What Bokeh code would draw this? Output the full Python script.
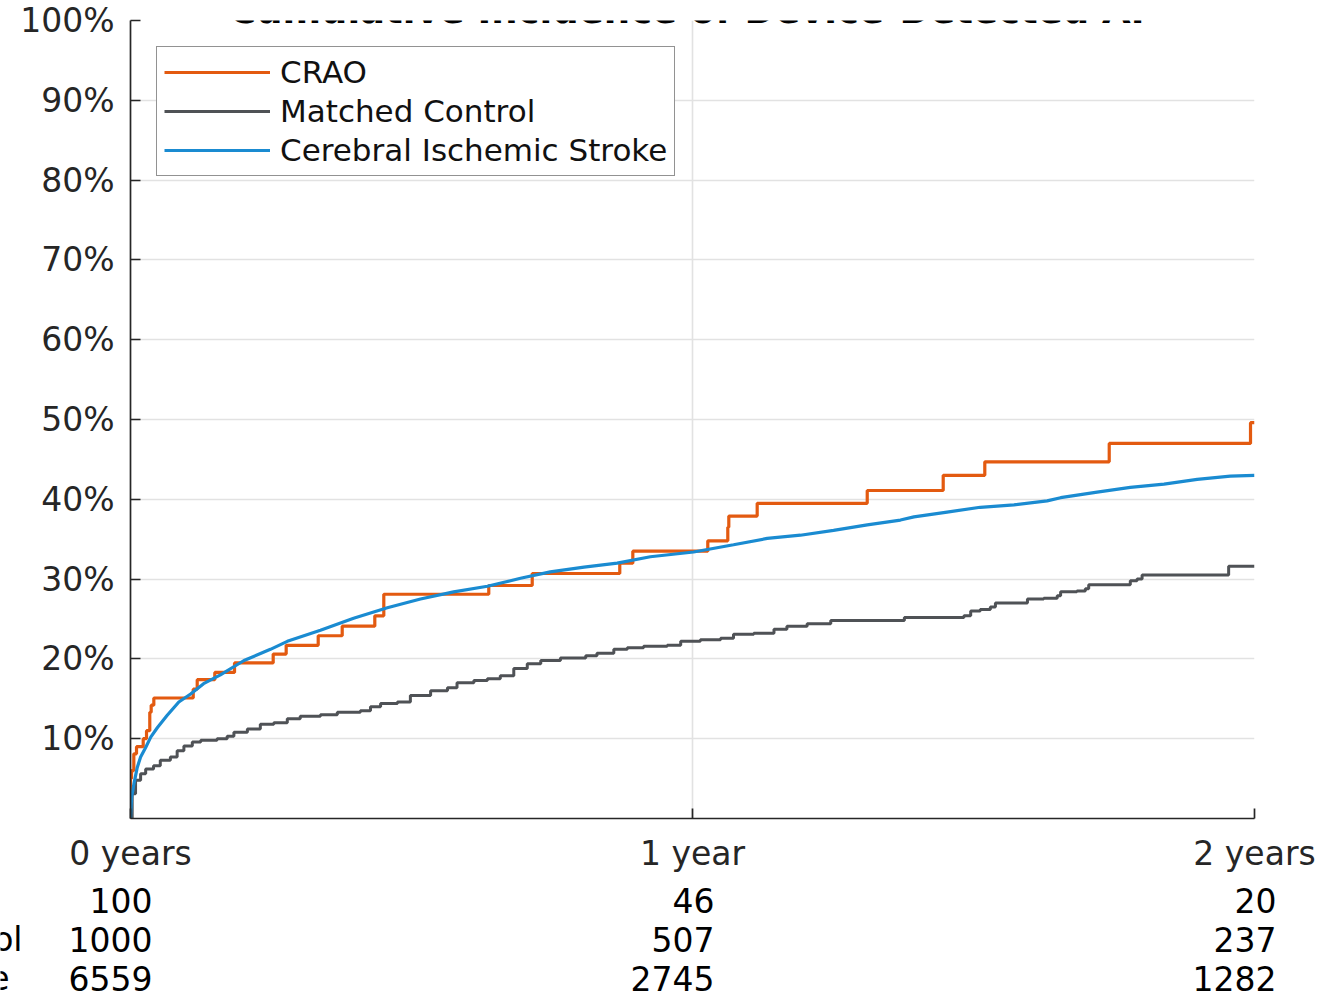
from bokeh.plotting import figure
from bokeh.models import Range1d, FixedTicker, Label, Legend, LegendItem
from bokeh.layouts import column
from bokeh.core.properties import value
from bokeh.embed import file_html
from bokeh.resources import INLINE

# ---------------- data (years, cumulative incidence %) ----------------
crao_t = [0.0, 0.0, 0.0018, 0.0059, 0.0107, 0.0226, 0.0285, 0.0343, 0.0368, 0.0415,
          0.1116, 0.1187, 0.1500, 0.1851, 0.2539, 0.2770, 0.3340, 0.3767, 0.4347,
          0.4507, 0.6375, 0.7148, 0.8706, 0.8938, 1.0272, 1.0628, 1.0646, 1.1151,
          1.3109, 1.4461, 1.5201, 1.7415, 1.9929, 2.0]
crao_pct = [0.0, 5.0, 6.0, 8.1, 9.0, 10.0, 11.0, 13.3, 14.2, 15.1,
            16.2, 17.4, 18.3, 19.5, 20.6, 21.7, 22.9, 24.1, 25.4,
            28.1, 29.2, 30.7, 32.0, 33.5, 34.8, 36.5, 37.9, 39.5,
            41.1, 43.0, 44.7, 47.0, 49.6, 49.6]

ctrl_t = [0.000, 0.003, 0.009, 0.018, 0.027, 0.041, 0.053, 0.071, 0.083, 0.095,
          0.110, 0.125, 0.154, 0.172, 0.184, 0.208, 0.231, 0.255, 0.279, 0.302,
          0.338, 0.368, 0.409, 0.427, 0.445, 0.475, 0.498, 0.534, 0.564, 0.581,
          0.611, 0.635, 0.658, 0.682, 0.706, 0.730, 0.765, 0.810, 0.830, 0.860,
          0.884, 0.913, 0.955, 0.979, 1.014, 1.050, 1.073, 1.109, 1.145, 1.168,
          1.204, 1.246, 1.377, 1.483, 1.495, 1.512, 1.530, 1.539, 1.596, 1.625,
          1.649, 1.655, 1.684, 1.699, 1.705, 1.779, 1.791, 1.800, 1.954, 2.000]
ctrl_pct = [0.0, 3.1, 4.8, 5.6, 6.2, 6.6, 7.3, 7.7, 8.5, 9.1,
            9.6, 9.8, 10.0, 10.3, 10.8, 11.2, 11.8, 12.0, 12.5, 12.8,
            13.0, 13.3, 13.5, 14.0, 14.4, 14.6, 15.4, 16.0, 16.4, 17.0,
            17.3, 17.5, 17.9, 18.8, 19.4, 19.8, 20.1, 20.4, 20.7, 21.2,
            21.4, 21.6, 21.7, 22.2, 22.4, 22.6, 23.1, 23.2, 23.7, 24.1,
            24.4, 24.8, 25.2, 25.4, 26.0, 26.2, 26.5, 27.0, 27.5, 27.6,
            27.9, 28.4, 28.5, 28.8, 29.3, 29.8, 30.0, 30.5, 31.6, 31.6]

stroke_t = [0.000, 0.002, 0.006, 0.012, 0.018, 0.027, 0.036, 0.048, 0.065, 0.086,
            0.107, 0.130, 0.160, 0.202, 0.249, 0.279, 0.338, 0.397, 0.457, 0.516,
            0.575, 0.635, 0.694, 0.747, 0.807, 0.866, 0.925, 1.002, 1.073, 1.133,
            1.192, 1.251, 1.311, 1.370, 1.394, 1.453, 1.512, 1.572, 1.631, 1.655,
            1.720, 1.779, 1.839, 1.898, 1.957, 2.000]
stroke_pct = [0.0, 2.7, 4.3, 6.4, 7.7, 8.9, 10.2, 11.4, 12.9, 14.6,
              15.6, 16.9, 18.0, 19.8, 21.2, 22.2, 23.6, 25.1, 26.4, 27.5,
              28.4, 29.1, 30.1, 30.9, 31.5, 32.0, 32.8, 33.4, 34.3, 35.1,
              35.5, 36.1, 36.8, 37.4, 37.8, 38.4, 39.0, 39.3, 39.8, 40.2,
              40.9, 41.5, 41.9, 42.5, 42.9, 43.0]

series_names = ["CRAO", "Matched Control", "Cerebral Ischemic Stroke"]
risk_times = [0, 1, 2]
risk_crao = [100, 46, 20]
risk_ctrl = [1000, 507, 237]
risk_stroke = [6559, 2745, 1282]

x_ticks = [0, 1, 2]
x_tick_labels = ["0 years", "1 year", "2 years"]
y_ticks = [10, 20, 30, 40, 50, 60, 70, 80, 90, 100]
y_tick_labels = [f"{v}%" for v in y_ticks]

title_text = "Cumulative Incidence of Device-Detected AF"

# ---------------- styling / layout ----------------
ORANGE = "#E35A10"
GRAY = "#4F5256"
BLUE = "#1A8BD1"
AXIS = "#262626"
GRID = "#e2e2e2"
FONT = "DejaVu Sans"

W = 1335
FL, FT, FR = 130, 20, 81      # frame borders of the main chart
FRAME_W = W - FL - FR         # 1124 px for 2 years
FRAME_H = 798
FB = 62
H1 = FT + FRAME_H + FB        # main chart height (880)
H2 = 118                      # risk table height
PX_PER_UNIT = FRAME_H / 100.0
PX_PER_YEAR = FRAME_W / 2.0

p = figure(width=W, height=H1, output_backend="svg", toolbar_location=None,
           x_range=Range1d(0, 2), y_range=Range1d(0, 100),
           min_border_left=FL, min_border_top=FT, min_border_right=FR,
           min_border_bottom=FB)
p.frame_align = False
p.outline_line_color = None
p.background_fill_color = "white"
p.border_fill_color = "white"

# axes
p.xaxis.ticker = FixedTicker(ticks=x_ticks)
p.xaxis.major_label_overrides = {t: l for t, l in zip(x_ticks, x_tick_labels)}
p.yaxis.ticker = FixedTicker(ticks=y_ticks)
p.yaxis.major_label_overrides = {t: l for t, l in zip(y_ticks, y_tick_labels)}
for ax in (p.xaxis, p.yaxis):
    ax.axis_line_color = AXIS
    ax.axis_line_width = 1.7
    ax.major_tick_line_color = AXIS
    ax.major_tick_line_width = 1.7
    ax.major_tick_in = 10
    ax.major_tick_out = 0
    ax.minor_tick_line_color = None
    ax.major_label_text_font = FONT
    ax.major_label_text_font_size = "33px"
    ax.major_label_text_color = AXIS
p.xaxis.major_label_standoff = 15
p.yaxis.major_label_standoff = 16

p.xgrid.grid_line_color = GRID
p.ygrid.grid_line_color = GRID
p.xgrid.grid_line_width = 1.6
p.ygrid.grid_line_width = 1.6

# curves
r_crao = p.step(crao_t, crao_pct, mode="after", line_color=ORANGE, line_width=3.2)
r_ctrl = p.step(ctrl_t, ctrl_pct, mode="after", line_color=GRAY, line_width=3.0)
r_stroke = p.line(stroke_t, stroke_pct, line_color=BLUE, line_width=3.2)

legend = Legend(items=[LegendItem(label=series_names[0], renderers=[r_crao]),
                       LegendItem(label=series_names[1], renderers=[r_ctrl]),
                       LegendItem(label=series_names[2], renderers=[r_stroke])],
                location="top_left", margin=26, padding=7, spacing=3,
                glyph_width=106, glyph_height=36, label_height=36,
                label_standoff=10, label_text_font=FONT,
                label_text_font_size="31px", label_text_color="#111111",
                border_line_color=AXIS, border_line_width=1.3,
                background_fill_color="white", background_fill_alpha=1.0)
p.add_layout(legend, "center")

# title (mostly above the visible page, as in the reference)
p.add_layout(Label(x=1.0, y=100 + 10.0 / PX_PER_UNIT, text=title_text,
                   text_align="center", text_baseline="alphabetic",
                   text_font=FONT, text_font_style="bold",
                   text_font_size="37px", text_color="black"))

# ---------------- number-at-risk table (own figure, same x scale) ----------------
t = figure(width=W, height=H2, output_backend="svg", toolbar_location=None,
           x_range=Range1d(-FL / PX_PER_YEAR, 2 + FR / PX_PER_YEAR),
           y_range=Range1d(H2, 0),
           min_border_left=0, min_border_right=0, min_border_top=0,
           min_border_bottom=0, x_axis_location=None, y_axis_location=None)
t.frame_align = False
t.outline_line_color = None
t.grid.visible = False
t.background_fill_color = "white"
t.border_fill_color = "white"

row_y_px = [20, 59, 98]
row_label_dx = [-140, -108, -121]
for row, (name, counts) in enumerate(zip(series_names,
                                         [risk_crao, risk_ctrl, risk_stroke])):
    t.text(x=[0], y=[row_y_px[row]], text=[name], x_offset=row_label_dx[row],
           text_align="right", text_baseline="middle",
           text_font=value(FONT), text_font_size="33px", text_color="black")
    t.text(x=risk_times, y=[row_y_px[row]] * len(risk_times),
           text=[str(n) for n in counts], x_offset=22,
           text_align="right", text_baseline="middle",
           text_font=value(FONT), text_font_size="33px", text_color="black")

layout = column(p, t, spacing=0)
open("out.html", "w").write(file_html(layout, INLINE))
